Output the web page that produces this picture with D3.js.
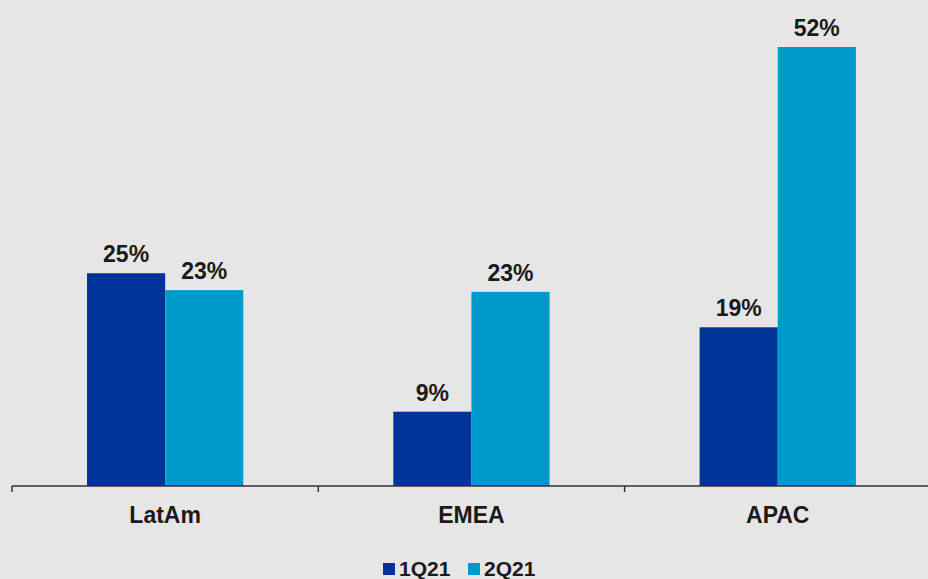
<!DOCTYPE html>
<html>
<head>
<meta charset="utf-8">
<script src="https://cdn.jsdelivr.net/npm/d3@7"></script>
<style>
  body { margin: 0; background: #e6e6e6; }
  svg { display: block; font-family: "Liberation Sans", Arial, sans-serif; }
  .value-label { font-size: 23px; font-weight: bold; fill: #1a1a1a; text-anchor: middle; }
  .x-axis text { font-size: 23px; font-weight: bold; fill: #1a1a1a; }
  .legend text { font-size: 21px; font-weight: bold; fill: #1a1a1a; }
</style>
</head>
<body>
<div id="wrapper"></div>
<script>
// data
const regions = ["LatAm", "EMEA", "APAC"]
const seriesNames = ["1Q21", "2Q21"]
const values1Q21 = [25.2, 8.8, 18.8]
const values2Q21 = [23.2, 23.0, 52.0]
const labels1Q21 = ["25%", "9%", "19%"]
const labels2Q21 = ["23%", "23%", "52%"]
const colors = ["#003399", "#0099cc"]

const dataset = regions.map((r, i) => ({
  region: r,
  bars: [
    { series: seriesNames[0], value: values1Q21[i], label: labels1Q21[i] },
    { series: seriesNames[1], value: values2Q21[i], label: labels2Q21[i] },
  ],
}))

// dimensions
const width = 928
const height = 579
const margin = { left: 12, baseline: 486, top: 47 }
const bandStep = 306.3

const wrapper = d3.select("#wrapper")
  .append("svg")
    .attr("width", width)
    .attr("height", height)

wrapper.append("rect")
    .attr("width", width)
    .attr("height", height)
    .attr("fill", "#e6e6e6")

// scales
const xScale = d3.scaleBand()
  .domain(regions)
  .range([margin.left, margin.left + bandStep * regions.length])
  .paddingInner(0)
  .paddingOuter(0)

const innerScale = d3.scaleBand()
  .domain(seriesNames)
  .range([0, xScale.bandwidth()])
  .paddingInner(0)
  .paddingOuter(0.96)

const yScale = d3.scaleLinear()
  .domain([0, 52])
  .range([margin.baseline, margin.top])

const colorScale = d3.scaleOrdinal()
  .domain(seriesNames)
  .range(colors)

// bars
const groups = wrapper.selectAll(".group")
  .data(dataset)
  .enter().append("g")
    .attr("class", "group")
    .attr("transform", d => `translate(${xScale(d.region)},0)`)

groups.selectAll("rect")
  .data(d => d.bars)
  .enter().append("rect")
    .attr("x", d => innerScale(d.series))
    .attr("width", innerScale.bandwidth())
    .attr("y", d => yScale(d.value))
    .attr("height", d => yScale(0) - yScale(d.value))
    .attr("fill", d => colorScale(d.series))

groups.selectAll(".value-label")
  .data(d => d.bars)
  .enter().append("text")
    .attr("class", "value-label")
    .attr("x", d => innerScale(d.series) + innerScale.bandwidth() / 2)
    .attr("y", d => yScale(d.value) - 11)
    .text(d => d.label)

// axis
const axisScale = d3.scaleLinear()
  .domain([0, regions.length])
  .range(xScale.range())

const xAxis = wrapper.append("g")
    .attr("class", "x-axis")
    .attr("transform", `translate(0,${margin.baseline})`)

xAxis.append("line")
    .attr("x1", margin.left)
    .attr("x2", width)
    .attr("stroke", "#333")
    .attr("stroke-width", 1.5)

xAxis.selectAll(".tick")
  .data(d3.range(regions.length + 1))
  .enter().append("line")
    .attr("x1", d => axisScale(d))
    .attr("x2", d => axisScale(d))
    .attr("y1", 0)
    .attr("y2", 6)
    .attr("stroke", "#333")
    .attr("stroke-width", 1.5)

xAxis.selectAll(".cat")
  .data(regions)
  .enter().append("text")
    .attr("x", d => xScale(d) + xScale.bandwidth() / 2)
    .attr("y", 37)
    .attr("text-anchor", "middle")
    .text(d => d)

// legend
const legend = wrapper.append("g")
    .attr("class", "legend")
    .attr("transform", "translate(383,563)")

const legendItems = legend.selectAll("g")
  .data(seriesNames)
  .enter().append("g")
    .attr("transform", (d, i) => `translate(${i * 85},0)`)

legendItems.append("rect")
    .attr("width", 12)
    .attr("height", 12)
    .attr("fill", d => colorScale(d))

legendItems.append("text")
    .attr("x", 16)
    .attr("y", 13)
    .text(d => d)
</script>
</body>
</html>
